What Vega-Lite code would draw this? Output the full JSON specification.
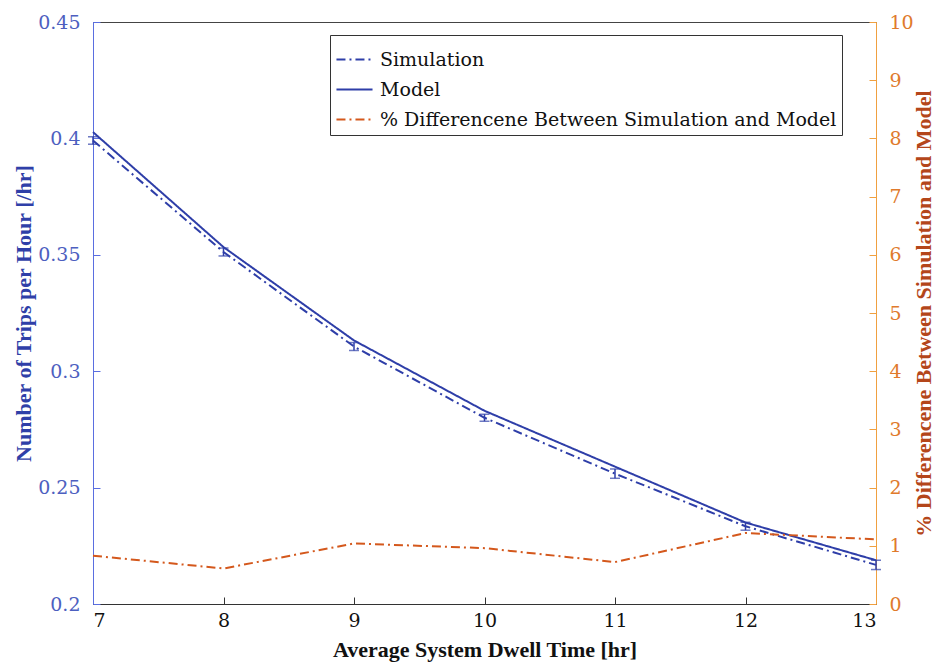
{
  "$schema": "https://vega.github.io/schema/vega-lite/v6.json",
  "width": 783,
  "height": 582,
  "autosize": {"type": "none"},
  "padding": {"left": 93, "top": 22, "right": 67, "bottom": 66},
  "background": "white",
  "config": {
    "view": {"stroke": "#444", "strokeWidth": 1}
  },
  "datasets": {
    "blue": [
      {"x": 7, "series": "Simulation", "value": 0.3991},
      {"x": 8, "series": "Simulation", "value": 0.3512},
      {"x": 9, "series": "Simulation", "value": 0.3106},
      {"x": 10, "series": "Simulation", "value": 0.2800},
      {"x": 11, "series": "Simulation", "value": 0.2560},
      {"x": 12, "series": "Simulation", "value": 0.2334},
      {"x": 13, "series": "Simulation", "value": 0.2168},
      {"x": 7, "series": "Model", "value": 0.4027},
      {"x": 8, "series": "Model", "value": 0.3533},
      {"x": 9, "series": "Model", "value": 0.3132},
      {"x": 10, "series": "Model", "value": 0.2830},
      {"x": 11, "series": "Model", "value": 0.2590},
      {"x": 12, "series": "Model", "value": 0.2350},
      {"x": 13, "series": "Model", "value": 0.2188}
    ],
    "sim": [
      {"x": 7, "lo": 0.3975, "hi": 0.4007},
      {"x": 8, "lo": 0.3495, "hi": 0.3529},
      {"x": 9, "lo": 0.3089, "hi": 0.3123},
      {"x": 10, "lo": 0.2785, "hi": 0.2815},
      {"x": 11, "lo": 0.2540, "hi": 0.2580},
      {"x": 12, "lo": 0.2317, "hi": 0.2351},
      {"x": 13, "lo": 0.2148, "hi": 0.2188}
    ],
    "orange": [
      {"x": 7, "series": "% Differencene Between Simulation and Model", "value": 0.83},
      {"x": 8, "series": "% Differencene Between Simulation and Model", "value": 0.61},
      {"x": 9, "series": "% Differencene Between Simulation and Model", "value": 1.04},
      {"x": 10, "series": "% Differencene Between Simulation and Model", "value": 0.96},
      {"x": 11, "series": "% Differencene Between Simulation and Model", "value": 0.72},
      {"x": 12, "series": "% Differencene Between Simulation and Model", "value": 1.22},
      {"x": 13, "series": "% Differencene Between Simulation and Model", "value": 1.11}
    ]
  },
  "encoding": {
    "x": {
      "field": "x",
      "type": "quantitative",
      "scale": {"domain": [7, 13], "nice": false, "zero": false},
      "axis": {
        "values": [7, 8, 9, 10, 11, 12, 13],
        "format": "d",
        "grid": false,
        "title": "Average System Dwell Time [hr]",
        "titleFont": "Liberation Serif",
        "titleFontSize": 22,
        "titleFontWeight": "bold",
        "titleColor": "#111",
        "titlePadding": 9,
        "labelFont": "DejaVu Serif",
        "labelFontSize": 19,
        "labelColor": "#111",
        "labelPadding": 14,
        "domainColor": "#333",
        "tickColor": "#333",
        "tickSize": -7
      }
    }
  },
  "layer": [
    {
      "layer": [
        {
          "data": {"name": "blue"},
          "mark": {"type": "line", "strokeWidth": 2},
          "encoding": {
            "y": {
              "field": "value",
              "type": "quantitative",
              "title": "Number of Trips per Hour [/hr]",
              "scale": {"domain": [0.2, 0.45], "nice": false, "zero": false},
              "axis": {
                "orient": "left",
                "values": [0.2, 0.25, 0.3, 0.35, 0.4, 0.45],
                "format": "~g",
                "grid": false,
                "title": "Number of Trips per Hour [/hr]",
                "titleFont": "Liberation Serif",
                "titleFontSize": 22,
                "titleFontWeight": "bold",
                "titleColor": "#2f3fa8",
                "titlePadding": 2,
                "labelFont": "DejaVu Serif",
                "labelFontSize": 19,
                "labelColor": "#4d5fc0",
                "labelPadding": 20,
                "domainColor": "#5a6ee0",
                "tickColor": "#5a6ee0",
                "tickSize": -7
              }
            },
            "color": {
              "field": "series",
              "type": "nominal",
              "scale": {
                "domain": ["Simulation", "Model", "% Differencene Between Simulation and Model"],
                "range": ["#2e3ea8", "#2e3ea8", "#d4581c"]
              },
              "legend": {
                "orient": "none",
                "legendX": 237,
                "legendY": 13,
                "title": null,
                "strokeColor": "#333",
                "fillColor": "white",
                "padding": 5,
                "labelFontSize": 19,
                "labelFont": "DejaVu Serif",
                "labelColor": "#111",
                "labelLimit": 0,
                "labelOffset": 6,
                "symbolType": "stroke",
                "symbolSize": 1300,
                "symbolStrokeWidth": 2,
                "rowPadding": -10
              }
            },
            "strokeDash": {
              "field": "series",
              "type": "nominal",
              "scale": {
                "domain": ["Simulation", "Model", "% Differencene Between Simulation and Model"],
                "range": [[9, 4, 2, 4], [1, 0], [9, 4, 2, 4]]
              },
              "legend": null
            }
          }
        },
        {
          "data": {"name": "sim"},
          "mark": {"type": "errorbar", "ticks": true, "size": 10, "thickness": 1.5, "color": "#2e3ea8"},
          "encoding": {
            "y": {"field": "lo", "type": "quantitative", "title": "Number of Trips per Hour [/hr]"},
            "y2": {"field": "hi"}
          }
        }
      ]
    },
    {
      "data": {"name": "orange"},
      "mark": {"type": "line", "strokeWidth": 2},
      "encoding": {
        "y": {
          "field": "value",
          "type": "quantitative",
          "scale": {"domain": [0, 10], "nice": false, "zero": false},
          "axis": {
            "orient": "right",
            "values": [0, 1, 2, 3, 4, 5, 6, 7, 8, 9, 10],
            "grid": false,
            "title": "% Differencene Between Simulation and Model",
            "titleFont": "Liberation Serif",
            "titleAngle": 270,
            "titleFontSize": 22,
            "titleFontWeight": "bold",
            "titleColor": "#b4461a",
            "titlePadding": 22,
            "labelFont": "DejaVu Serif",
            "labelFontSize": 19,
            "labelColor": "#e07a2c",
            "labelPadding": 20,
            "domainColor": "#f0a040",
            "tickColor": "#f0a040",
            "tickSize": -7
          }
        },
        "color": {
          "field": "series",
          "type": "nominal",
          "scale": {
            "domain": ["Simulation", "Model", "% Differencene Between Simulation and Model"],
            "range": ["#2e3ea8", "#2e3ea8", "#d4581c"]
          }
        },
        "strokeDash": {
          "field": "series",
          "type": "nominal",
          "scale": {
            "domain": ["Simulation", "Model", "% Differencene Between Simulation and Model"],
            "range": [[9, 4, 2, 4], [1, 0], [9, 4, 2, 4]]
          },
          "legend": null
        }
      }
    }
  ],
  "resolve": {"scale": {"y": "independent"}}
}
